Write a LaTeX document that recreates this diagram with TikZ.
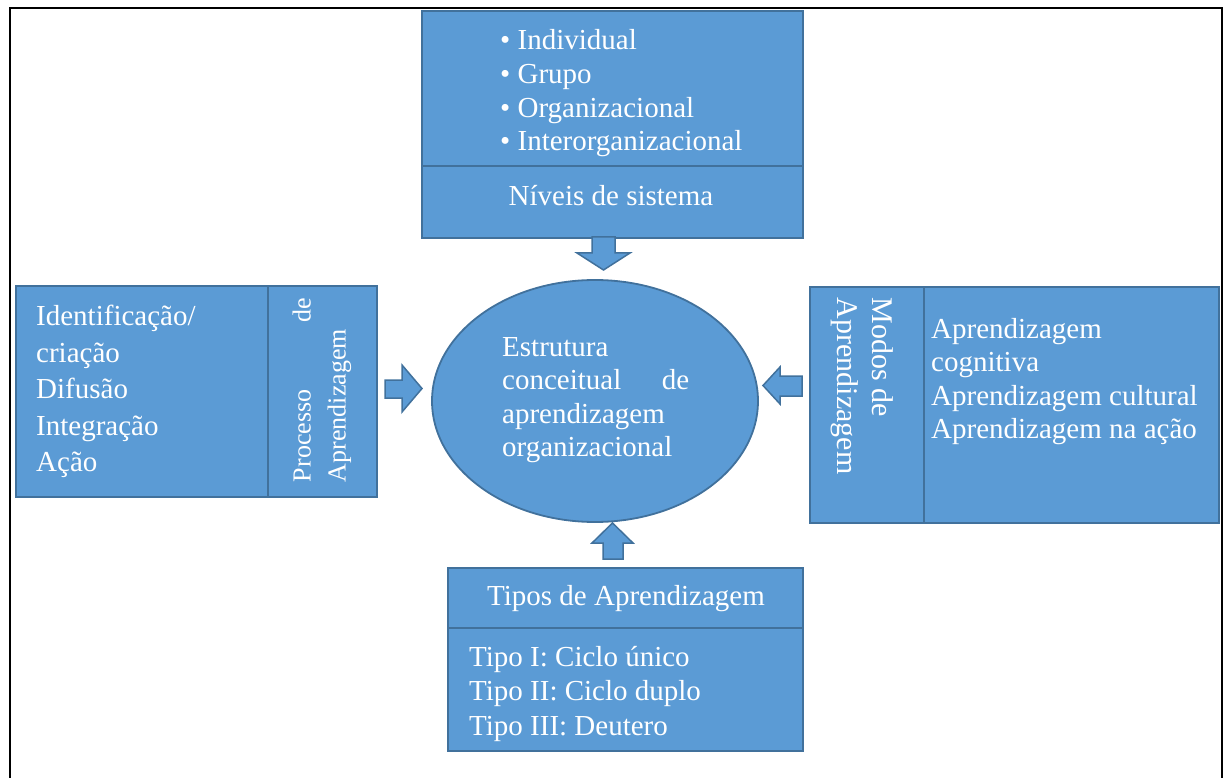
\documentclass[tikz,border=0pt]{standalone}
\usepackage{fontspec}
\setmainfont{Liberation Serif}
\usetikzlibrary{shapes.geometric}
\definecolor{boxfill}{HTML}{5B9BD5}
\definecolor{boxedge}{HTML}{41719C}

\begin{document}
\begin{tikzpicture}[x=1pt,y=-1pt,
  panel/.style={draw=boxedge, fill=boxfill, line width=1.8pt, rectangle,
    inner sep=0, anchor=north west},
  blockarrow/.style={draw=boxedge, fill=boxfill, line width=1.5pt, line join=miter},
  txt/.style={text=white, inner sep=0, font=\fontsize{29}{#1}\selectfont},
  txt/.default=33.6,
]
\useasboundingbox (0,0) rectangle (1227,778);

% outer frame (open at the bottom)
\draw[line width=2.5pt] (10,800) -- (10,8) -- (1222,8) -- (1222,800);

% --- top: system levels
\node[panel, minimum width=381, minimum height=155] (topList) at (421,10) {};
\node[panel, minimum width=381, minimum height=72] (topTitle) at (421,165) {};
\node[txt, anchor=base west] (topListText) at (500,50)
  {\parbox[t]{300pt}{\textbullet\ Individual\\\textbullet\ Grupo\\
   \textbullet\ Organizacional\\\textbullet\ Interorganizacional}};
\node[txt, anchor=base] (topTitleText) at (611,206) {Níveis de sistema};

% --- centre ellipse
\node[ellipse, draw=boxedge, fill=boxfill, line width=1.8pt, inner sep=0,
  minimum width=326, minimum height=242] (core) at (595,401) {};
\node[txt, anchor=base west] (coreText) at (502,356)
  {\parbox[t]{187pt}{Estrutura\\conceitual\hfill de\\aprendizagem\\organizacional}};

% --- left: learning process
\node[panel, minimum width=252, minimum height=211] (leftList) at (15,285) {};
\node[panel, minimum width=109, minimum height=211] (leftTitle) at (267,285) {};
\node[txt=36.5, anchor=base west] (leftListText) at (36,326)
  {\parbox[t]{220pt}{Identificação/\\criação\\Difusão\\Integração\\Ação}};
\node[text=white, inner sep=0, font=\fontsize{26}{35}\selectfont, rotate=90]
  (leftTitleText) at (322,390)
  {\parbox[c]{184pt}{Processo\hfill de\\Aprendizagem}};

% --- right: learning modes
\node[panel, minimum width=114, minimum height=236] (rightTitle) at (809,286) {};
\node[panel, minimum width=295, minimum height=236] (rightList) at (923,286) {};
\node[text=white, inner sep=0, font=\fontsize{30}{35}\selectfont, rotate=-90]
  (rightTitleText) at (862,398)
  {\parbox[c]{200pt}{Modos de\\Aprendizagem}};
\node[txt=33.5, anchor=base west] (rightListText) at (931,338)
  {\parbox[t]{285pt}{Aprendizagem\\cognitiva\\Aprendizagem cultural\\Aprendizagem na ação}};

% --- bottom: learning types
\node[panel, minimum width=355, minimum height=60] (botTitle) at (447,567) {};
\node[panel, minimum width=355, minimum height=123] (botList) at (447,627) {};
\node[txt, anchor=base] (botTitleText) at (626,605) {Tipos de Aprendizagem};
\node[txt=34.5, anchor=base west] (botListText) at (469,666)
  {\parbox[t]{320pt}{Tipo I: Ciclo único\\Tipo II: Ciclo duplo\\Tipo III: Deutero}};

% --- block arrows pointing at the ellipse
\draw[blockarrow] (592,237) -- (592,253) -- (577,253) -- (603.5,270)
  -- (630,253) -- (615,253) -- (615,237) -- cycle;
\draw[blockarrow] (385,380) -- (402,380) -- (402,365) -- (422,388.5)
  -- (402,412) -- (402,398) -- (385,398) -- cycle;
\draw[blockarrow] (802,376) -- (780,376) -- (780,367) -- (763,385.5)
  -- (780,404) -- (780,396) -- (802,396) -- cycle;
\draw[blockarrow] (603,559) -- (603,543) -- (592,543) -- (612.5,523)
  -- (633,543) -- (623,543) -- (623,559) -- cycle;
\end{tikzpicture}
\end{document}
